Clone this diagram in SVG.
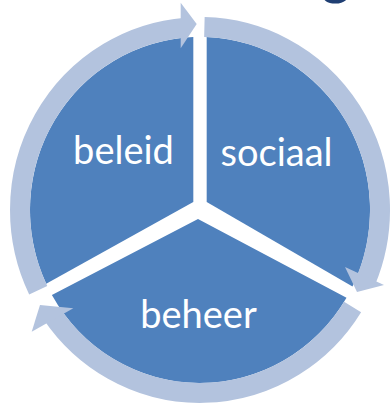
<svg xmlns="http://www.w3.org/2000/svg" width="392" height="407" viewBox="0 0 392 407">
  <style>
    .sector { fill: #4f81bd; }
    .label { fill: #ffffff; font-family: Lato, "Liberation Sans", sans-serif; font-size: 38px; text-anchor: middle; }
    .ring { fill: none; stroke: #b3c3de; stroke-width: 20; stroke-linecap: butt; }
    .head { fill: #b3c3de; }
    .title { fill: #1f3f73; font-family: Lato, "Liberation Sans", sans-serif; font-size: 55px; font-weight: bold; text-anchor: middle; }
  </style>
  <rect width="392" height="407" fill="#ffffff"/>
  <text class="title" x="336" y="-6">g</text>
  <g id="beleid">
    <path class="sector" d="M193.3,202 L46.2,283.7 A170,173 0 0 1 193.3,37.1 Z"/>
    <text class="label" x="123.5" y="164">beleid</text>
  </g>
  <g id="sociaal">
    <path class="sector" d="M206.7,202 L206.7,37.1 A170,173 0 0 1 352.5,286.5 Z"/>
    <text class="label" x="276.5" y="166">sociaal</text>
  </g>
  <g id="beheer">
    <path class="sector" d="M198,219 L346.5,297.7 A170,173 0 0 1 51.9,295 Z"/>
    <text class="label" x="198.5" y="328">beheer</text>
  </g>
  <g id="connectors">
    <path class="ring" d="M204.4,27.05 A180,183 0 0 1 365.7,281.5"/>
    <polygon class="head" points="345,267 384,285 357,292"/>
    <path class="ring" d="M352.6,307 A180,183 0 0 1 51.7,313.6"/>
    <polygon class="head" points="73.3,308.3 31.7,331.7 40,305"/>
    <path class="ring" d="M38.2,290.2 A180,183 0 0 1 185.9,27.6"/>
    <polygon class="head" points="180.7,2.7 196.7,24 180.7,48.3"/>
  </g>
</svg>
